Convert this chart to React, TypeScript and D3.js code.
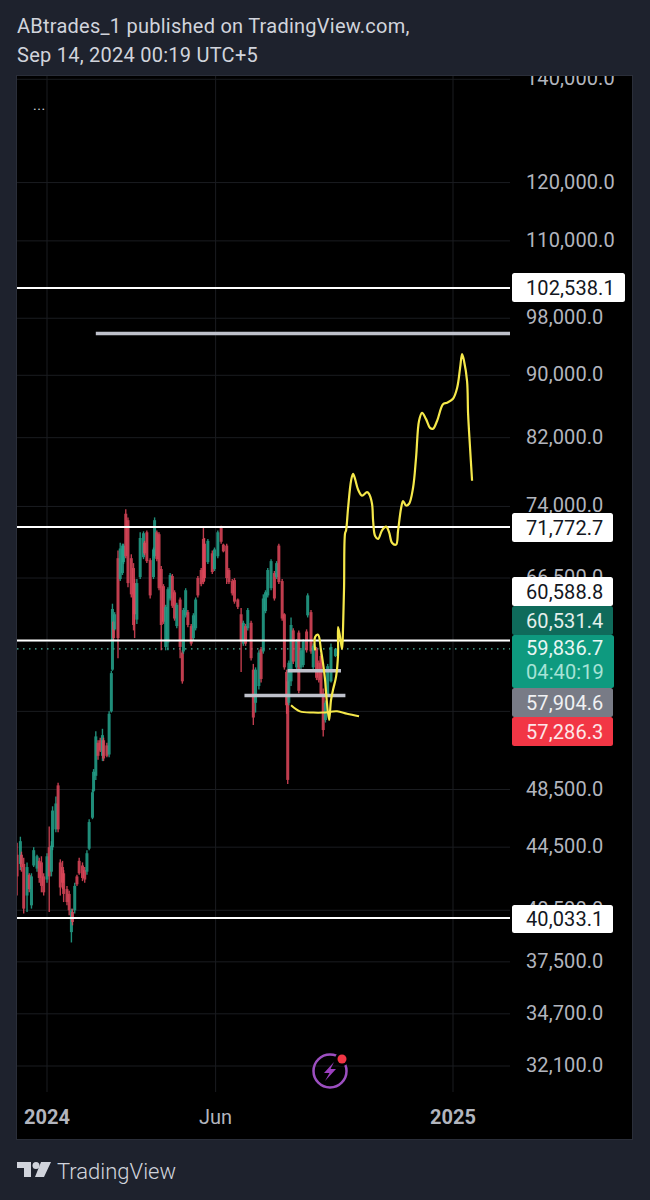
import React from "react";
import * as d3 from "d3";

// Daily-bar samples: day offset from 2024-01-01, prices in thousands
const barDays = [
  -27,-24,-23,-21,-18,-16,-14,-12,-9,-7,
  -5,-3,0,2,4,5,8,10,12,14,
  15,18,20,22,23,25,27,29,32,34,
  36,38,41,42,44,46,48,50,51,54,
  56,58,59,60,61,64,66,68,69,71,
  73,76,78,79,81,84,87,88,90,93,
  96,97,99,101,103,105,107,109,111,113,
  115,117,120,122,123,125,127,130,132,134,
  136,139,141,142,145,149,151,154,157,159,
  162,164,167,169,172,175,177,179,181,184,
  186,188,191,193,195,197,199,202,205,207,
  209,212,214,216,217,218,220,222,225,227,
  229,231,234,235,238,240,243,245,247,249,
  251,253,256,260,
];
const barHighs = [
  44.8,45.2,44.2,43.8,43.5,42.8,42.8,44.5,44.0,43.8,
  43.9,42.8,44.1,45.9,44.9,47.3,48.0,49.0,43.7,43.6,
  43.0,42.0,41.7,40.6,40.6,42.2,42.7,43.8,43.5,43.2,
  44.3,46.4,48.5,50.0,52.9,52.2,52.4,53.1,52.4,52.0,
  54.5,57.9,64.0,62.4,63.2,69.3,70.1,70.0,70.0,73.7,
  72.8,68.9,68.0,66.4,66.4,71.2,71.3,70.3,71.4,68.5,
  69.6,72.8,71.4,71.2,67.7,65.9,63.9,65.6,67.0,66.9,
  65.3,64.1,64.6,59.7,63.6,65.5,63.4,62.1,63.1,64.6,
  66.7,67.5,71.8,70.6,70.5,69.3,69.6,71.4,71.9,70.0,
  70.0,67.5,66.4,66.5,64.5,63.6,62.4,62.1,63.6,62.4,
  58.5,58.2,59.7,60.0,64.9,65.3,67.5,68.4,67.2,68.2,
  70.0,66.4,63.1,58.0,58.0,58.8,62.7,61.7,60.7,61.5,
  59.9,60.7,61.6,65.0,63.4,60.3,60.0,58.8,59.4,56.4,
  55.4,58.5,60.3,59.9,
];
const barLows = [
  41.4,43.0,42.9,40.3,40.4,41.6,40.6,43.2,42.9,42.2,
  41.6,41.4,42.2,40.4,42.6,44.3,45.5,45.5,41.4,41.8,
  41.0,40.8,40.2,38.6,39.6,40.3,42.0,42.7,42.3,42.2,
  42.7,44.3,46.4,48.3,49.2,50.7,51.3,50.6,50.6,50.9,
  50.9,54.4,57.9,60.6,61.5,59.0,66.2,66.8,67.9,68.5,
  65.6,64.6,61.5,60.8,62.1,66.4,68.4,68.8,68.0,64.5,
  66.4,68.5,68.2,65.3,59.7,62.1,59.7,59.7,64.3,63.6,
  62.4,61.7,59.0,56.8,59.4,62.7,61.8,60.1,60.6,61.5,
  64.6,65.7,65.9,66.2,67.9,66.9,67.2,68.5,70.0,69.1,
  65.9,65.9,64.8,64.0,63.5,57.8,60.1,60.1,61.5,58.8,
  53.4,54.4,56.3,56.9,59.4,63.1,64.6,65.3,64.3,66.4,
  65.9,62.4,58.0,54.3,48.9,55.0,56.6,58.5,58.0,56.0,
  58.0,58.2,59.5,62.7,59.4,58.0,57.1,56.9,55.7,52.5,
  53.6,55.7,56.9,59.1,
];
const barOpens = [
  44.0,43.4,44.0,43.4,41.4,42.7,40.8,43.3,43.1,43.6,
  43.5,42.6,42.4,44.5,42.9,44.5,45.7,48.8,43.5,43.2,
  42.8,41.8,41.5,39.2,40.4,40.5,42.6,43.6,43.3,43.0,
  42.9,44.4,46.5,48.4,49.5,52.0,52.2,51.0,52.2,51.8,
  51.1,54.5,58.0,62.3,61.6,68.5,66.4,67.0,68.1,73.2,
  72.5,68.5,67.5,66.0,62.5,66.6,68.6,70.1,71.2,68.3,
  66.6,68.7,71.2,71.0,67.4,65.7,60.0,60.4,64.5,66.7,
  65.1,61.9,64.4,59.5,59.6,62.9,63.2,61.9,60.8,61.7,
  66.5,67.3,70.5,70.0,68.1,69.0,67.4,68.7,71.7,69.9,
  69.8,67.3,66.2,66.3,64.4,63.0,60.3,61.9,61.7,62.2,
  58.0,55.2,56.6,59.8,59.6,63.3,64.8,65.5,67.0,66.6,
  69.8,66.2,63.0,57.8,57.0,55.2,57.0,61.5,58.2,61.3,
  58.2,58.4,61.4,62.9,63.2,58.2,59.8,58.6,59.2,56.0,
  53.8,55.9,57.0,59.2,
];
const barCloses = [
  42.6,44.9,43.2,40.6,43.2,41.8,42.6,44.3,43.9,42.5,
  42.0,41.6,43.9,42.6,44.6,47.0,47.5,45.7,41.9,42.2,
  41.5,41.0,40.5,40.5,39.8,42.0,42.1,42.8,42.5,42.4,
  44.1,46.2,48.3,49.8,52.5,51.0,51.4,52.6,50.8,51.0,
  54.3,57.7,63.5,60.8,63.0,60.8,69.5,69.8,69.8,68.7,
  66.0,64.9,62.0,63.0,66.0,70.6,71.1,69.0,68.2,64.8,
  69.4,72.5,68.4,65.5,62.0,62.3,63.7,65.4,66.8,63.8,
  62.6,63.9,60.0,57.0,63.4,65.3,62.0,60.3,62.9,64.4,
  64.8,65.9,66.1,66.5,70.3,67.1,69.4,71.2,70.2,69.2,
  66.5,66.1,65.0,64.2,63.7,60.5,62.2,60.3,63.4,59.0,
  54.0,58.0,59.5,57.2,64.5,65.1,67.3,68.2,64.5,68.0,
  66.1,62.6,58.2,55.0,49.2,58.6,62.0,58.7,60.5,56.2,
  59.7,60.5,59.7,64.8,59.6,60.1,57.3,57.1,55.9,53.0,
  55.2,58.3,60.0,59.8,
];

// Yellow brush drawings: [day offset, price in thousands]
const forecastBrush: [number, number][] = [
  [241.7,59.7],[241.7,60.9],[244.4,61.1],[247,59.7],[248.9,58.5],[250.7,57.1],[251.6,56.0],[254.3,53.8],
  [256,55.4],[257.9,56.3],[260.6,57.4],[262.4,59.4],[262.4,61.8],[264.2,60.9],[266,59.8],[266.9,61.8],
  [267.8,65.6],[268.7,71.1],[269.6,71.4],[271.4,73.8],[274.1,76.9],[275.9,77.7],[277.7,77.1],[280.4,75.9],
  [284,75.2],[288.5,75.6],[290.3,75.4],[293,74.3],[294,72.4],[295.8,70.8],[298.5,70.5],[302,71.4],
  [305.7,71.8],[308.4,71.2],[311,70.1],[314.7,69.9],[316.5,71.4],[319.2,73.8],[321,74.6],[323.7,74.1],
  [326.4,74.3],[330,76.1],[332.7,79.6],[335.4,84.1],[338.1,85.1],[341.7,84.3],[345.3,83.2],[348,83.1],
  [351.7,84.1],[357,86.2],[360.7,86.4],[366,86.9],[369.7,88.3],[372.4,91.0],[374.2,92.9],[376,91.9],
  [378.7,89.2],[379.6,85.0],[381.4,80.7],[383.2,76.9],
];
const flatBrush: [number, number][] = [
  [220,55.0],[228,54.5],[240,54.4],[249,54.4],[261.5,54.5],[270.5,54.3],[281.3,54.1],
];

// Levels
const whiteLevels = [102538.1, 71772.7, 60588.8, 40033.1];
const greySegments: [number, number, number][] = [
  [44, 417.5, 95800],
  [178, 269, 55800],
  [217, 265, 57900],
];
const lastPrice = 59836.7;
const axisTicks = [140000,120000,110000,98000,90000,82000,74000,66500,48500,44500,40500,37500,34700,32100];
const hiddenGrid = [60500, 54500];
const timeTicks: [number, number, string, boolean][] = [
  [2024, 0, "2024", true],
  [2024, 5, "Jun", false],
  [2025, 0, "2025", true],
];

const white = "#ffffff";
const priceTags = [
  { y: 273, h: 29, w: 113, fill: white, color: "#131722", text: "102,538.1" },
  { y: 513, h: 29, w: 101, fill: white, color: "#131722", text: "71,772.7" },
  { y: 577, h: 29, w: 101, fill: white, color: "#131722", text: "60,588.8" },
  { y: 606, h: 29, w: 101, fill: "#0f6b5b", color: "#e4efec", text: "60,531.4" },
  { y: 688, h: 29, w: 101, fill: "#787b86", color: "#f0f1f3", text: "57,904.6" },
  { y: 717, h: 29, w: 101, fill: "#f23645", color: "#fde6e8", text: "57,286.3" },
  { y: 905, h: 28, w: 101, fill: white, color: "#131722", text: "40,033.1" },
];

const FONT = "Roboto, sans-serif";

export default function App() {
  const y = d3.scaleLog().domain([32100, 140000]).range([1066, 79.3]);
  const t = d3.scaleUtc()
    .domain([new Date(Date.UTC(2024, 0, 1)), new Date(Date.UTC(2025, 0, 1))])
    .range([47, 453]);
  const xd = (d: number) => t(new Date(Date.UTC(2024, 0, 1) + d * 86400000));
  const yk = (k: number) => y(k * 1000);

  const curve = d3.line<[number, number]>().x((p) => xd(p[0])).y((p) => yk(p[1])).curve(d3.curveCatmullRom.alpha(0.5));
  const fmt = d3.format(",.1f");

  return (
    <svg width={650} height={1200} style={{ position: "absolute", left: 0, top: 0, display: "block" }} fontFamily={FONT}>
      <defs>
        <clipPath id="frame"><rect x={17} y={76} width={615} height={1063} /></clipPath>
        <clipPath id="pane"><rect x={17} y={76} width={493} height={1016} /></clipPath>
        <filter id="soft" x="-5%" y="-5%" width="110%" height="110%">
          <feGaussianBlur stdDeviation="0.6" />
        </filter>
      </defs>
      <rect width={650} height={1200} fill="#1e222d" />
      <text x={17} y={33} fontSize={20} letterSpacing={0.25} fill="#d1d4dc">ABtrades_1 published on TradingView.com,</text>
      <text x={17} y={62} fontSize={20} letterSpacing={0.25} fill="#d1d4dc">Sep 14, 2024 00:19 UTC+5</text>

      <rect x={16.5} y={75.5} width={616} height={1064} fill="#000" stroke="#2a2e39" />

      <g clipPath="url(#frame)">
        {[...axisTicks, ...hiddenGrid].map((v) => (
          <line key={v} x1={17} x2={510} y1={y(v)} y2={y(v)} stroke="#1a1c20" />
        ))}
        {timeTicks.map(([yr, m, s]) => {
          const x = t(new Date(Date.UTC(yr, m, 1)));
          return <line key={s} x1={x} x2={x} y1={76} y2={1092} stroke="#1a1c20" />;
        })}
        {axisTicks.map((v) => (
          <text key={v} x={526} y={y(v) + 6} fontSize={20} letterSpacing={0.1} fill="#b2b5be">{fmt(v)}</text>
        ))}
      </g>

      <g clipPath="url(#pane)">
        <line x1={17} x2={510} y1={y(lastPrice)} y2={y(lastPrice)} stroke="#4fb8a3" strokeWidth={1.2} strokeDasharray="1.5 4.5" />
        <g filter="url(#soft)">
          {barDays.map((d, i) => {
            const up = barCloses[i] >= barOpens[i];
            const c = up ? "#26a68f" : "#e2485c";
            const top = yk(Math.max(barOpens[i], barCloses[i]));
            const bot = yk(Math.min(barOpens[i], barCloses[i]));
            return (
              <g key={i} opacity={0.85}>
                <line x1={xd(d)} x2={xd(d)} y1={yk(barHighs[i])} y2={yk(barLows[i])} stroke={c} strokeWidth={1.4} />
                <rect x={xd(d) - 1.5} width={3} y={top} height={Math.max(1, bot - top)} fill={c} />
              </g>
            );
          })}
        </g>
        {whiteLevels.map((v) => (
          <line key={v} x1={17} x2={510} y1={y(v)} y2={y(v)} stroke="#fff" strokeWidth={2} />
        ))}
        {greySegments.map(([a, b, v]) => (
          <line key={v} x1={xd(a)} x2={xd(b)} y1={y(v)} y2={y(v)} stroke="#bfc1cb" strokeWidth={3.5} />
        ))}
        <path d={curve(flatBrush) || ""} fill="none" stroke="#f5e84a" strokeWidth={2} />
        <path d={curve(forecastBrush) || ""} fill="none" stroke="#f5e84a" strokeWidth={2.2} strokeLinejoin="round" />
      </g>

      {priceTags.map((p) => (
        <g key={p.text}>
          <rect x={512} y={p.y} width={p.w} height={p.h} rx={2.5} fill={p.fill} />
          <text x={526} y={p.y + p.h / 2 + 7} fontSize={20} letterSpacing={0.1} fill={p.color}>{p.text}</text>
        </g>
      ))}
      <rect x={512} y={635} width={102} height={53} rx={2.5} fill="#0e9a7f" />
      <text x={526} y={655} fontSize={20} letterSpacing={0.1} fill="#e8f6f3">{fmt(lastPrice)}</text>
      <text x={526} y={679} fontSize={20} letterSpacing={0.1} fill="#a7e3d6">04:40:19</text>

      {timeTicks.map(([yr, m, s, bold]) => (
        <text key={s} x={t(new Date(Date.UTC(yr, m, 1)))} y={1124} fontSize={20} fontWeight={bold ? 700 : 400} textAnchor="middle" fill="#b2b5be">{s}</text>
      ))}

      <text x={33} y={110} fontSize={14} fill="#d1d4dc" letterSpacing={0.5}>...</text>

      <circle cx={330} cy={1071} r={16.5} fill="none" stroke="#9c4fc0" strokeWidth={2.5} />
      <path d="M334 1062 L324 1073 L329.5 1073 L325 1081 L336 1069 L330.5 1069 Z" fill="#9c3fc0" />
      <circle cx={342} cy={1059} r={7} fill="#000" />
      <circle cx={342} cy={1059} r={4.5} fill="#f23645" />

      <g fill="#d1d4dc">
        <path d="M17 1162 H31 V1177 H24 V1168 H17 Z" />
        <circle cx={36} cy={1165.5} r={3.5} />
        <path d="M41 1162 H51 L44 1177 H35 Z" />
      </g>
      <text x={57} y={1178.5} fontSize={22} fontWeight={300} fill="#d1d4dc">TradingView</text>
    </svg>
  );
}
